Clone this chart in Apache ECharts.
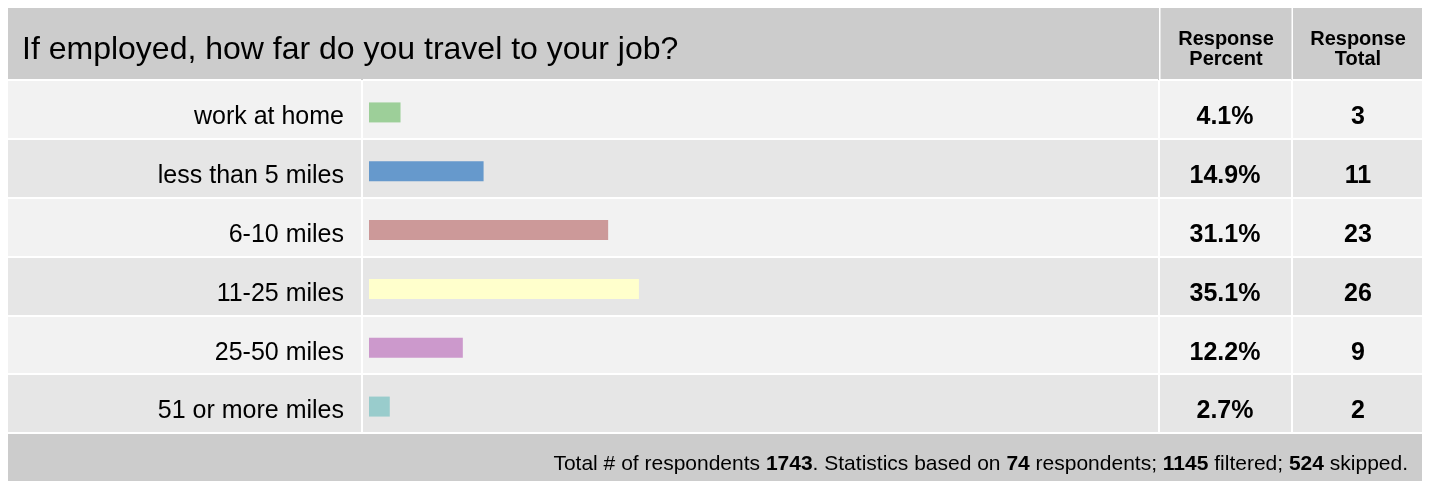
<!DOCTYPE html>
<html>
<head>
<meta charset="utf-8">
<script src="https://cdn.jsdelivr.net/npm/echarts@6/dist/echarts.min.js"></script>
<style>html,body{margin:0;padding:0;background:#fff}#c{width:1429px;height:481px}</style>
</head>
<body>
<div id="c"></div>
<script>
const questionTitle = 'If employed, how far do you travel to your job?';
const categories = ['work at home', 'less than 5 miles', '6-10 miles', '11-25 miles', '25-50 miles', '51 or more miles'];
const percents = [4.1, 14.9, 31.1, 35.1, 12.2, 2.7];
const totals = [3, 11, 23, 26, 9, 2];
const footerStats = { respondents: 1743, basedOn: 74, filtered: 1145, skipped: 524 };

const barColors = ['#9dcf99', '#6699cc', '#cc9999', '#ffffcc', '#cc99cc', '#99cccc'];
const FONT = '"Liberation Sans", Arial, sans-serif';

const chart = echarts.init(document.getElementById('c'), null, { renderer: 'canvas' });

const rowTop = 80, rowH = 353, textShift = 8;
const bgGrids = [
  { left: 8, width: 353 },
  { left: 363, width: 795 },
  { left: 1160, width: 131 },
  { left: 1293, width: 129 }
];
const grids = bgGrids.map(g => ({ left: g.left, width: g.width, top: rowTop, height: rowH, containLabel: false }));
// 4: bars
grids.push({ left: 369, width: 769, top: rowTop + 3, height: rowH, containLabel: false });
// 5: row labels, 6: percent column text, 7: total column text
grids.push({ left: 369, width: 769, top: rowTop + textShift, height: rowH, containLabel: false });
grids.push({ left: 1160, width: 131, top: rowTop + textShift, height: rowH, containLabel: false });
grids.push({ left: 1293, width: 129, top: rowTop + textShift, height: rowH, containLabel: false });

const xAxes = grids.map((g, i) => ({
  type: 'value', gridIndex: i, show: false, min: 0, max: i === 4 ? 100 : 1
}));

function bgY(i) {
  return {
    type: 'category', gridIndex: i, inverse: true, data: categories,
    axisLine: { show: false }, axisTick: { show: false }, axisLabel: { show: false },
    splitArea: { show: true, areaStyle: { color: ['#f2f2f2', '#e6e6e6'] } },
    splitLine: { show: true, lineStyle: { color: '#ffffff', width: 2 } }
  };
}
function textY(i, data, label) {
  return {
    type: 'category', gridIndex: i, inverse: true, data: data, z: 5,
    axisLine: { show: false }, axisTick: { show: false },
    splitArea: { show: false }, splitLine: { show: false },
    axisLabel: label
  };
}

const valueLabel = { show: true, inside: true, margin: 65, align: 'center',
  fontFamily: FONT, fontSize: 25, fontWeight: 'bold', color: '#000' };

const yAxes = [
  bgY(0), bgY(1), bgY(2), bgY(3),
  { type: 'category', gridIndex: 4, inverse: true, data: categories, show: false },
  textY(5, categories, { show: true, margin: 25, fontFamily: FONT, fontSize: 25, color: '#000' }),
  textY(6, percents.map(v => v.toFixed(1) + '%'), valueLabel),
  textY(7, totals.map(v => String(v)), valueLabel)
];

const f = footerStats;
chart.setOption({
  animation: false,
  grid: grids,
  xAxis: xAxes,
  yAxis: yAxes,
  series: [{
    type: 'bar', xAxisIndex: 4, yAxisIndex: 4, barWidth: 20, z: 3,
    data: percents.map((v, i) => ({ value: v, itemStyle: { color: barColors[i] } }))
  }],
  graphic: [
    { type: 'rect', z: -1, shape: { x: 8, y: 8, width: 1414, height: 72 }, style: { fill: '#cccccc' } },
    { type: 'rect', z: 0, shape: { x: 1159, y: 8, width: 1.5, height: 72 }, style: { fill: '#ffffff' } },
    { type: 'rect', z: 0, shape: { x: 1291.5, y: 8, width: 1.5, height: 72 }, style: { fill: '#ffffff' } },
    { type: 'rect', z: -1, shape: { x: 8, y: 434, width: 1414, height: 47 }, style: { fill: '#cccccc' } },
    { type: 'text', z: 10, x: 22, y: 50, style: { text: questionTitle, font: 'normal 32px ' + FONT, fill: '#000', textAlign: 'left', textVerticalAlign: 'middle' } },
    { type: 'text', z: 10, x: 1226, y: 49.5, style: { text: 'Response\nPercent', font: 'bold 20px ' + FONT, lineHeight: 20, fill: '#000', textAlign: 'center', textVerticalAlign: 'middle' } },
    { type: 'text', z: 10, x: 1358, y: 49.5, style: { text: 'Response\nTotal', font: 'bold 20px ' + FONT, lineHeight: 20, fill: '#000', textAlign: 'center', textVerticalAlign: 'middle' } },
    { type: 'text', z: 10, x: 1408, y: 464, style: {
      text: 'Total # of respondents {b|' + f.respondents + '}. Statistics based on {b|' + f.basedOn + '} respondents; {b|' + f.filtered + '} filtered; {b|' + f.skipped + '} skipped.',
      font: 'normal 21px ' + FONT, fill: '#000', textAlign: 'right', textVerticalAlign: 'middle',
      rich: { b: { fontWeight: 'bold', fontSize: 21, fontFamily: FONT, fill: '#000' } }
    } }
  ]
});
</script>
</body>
</html>
